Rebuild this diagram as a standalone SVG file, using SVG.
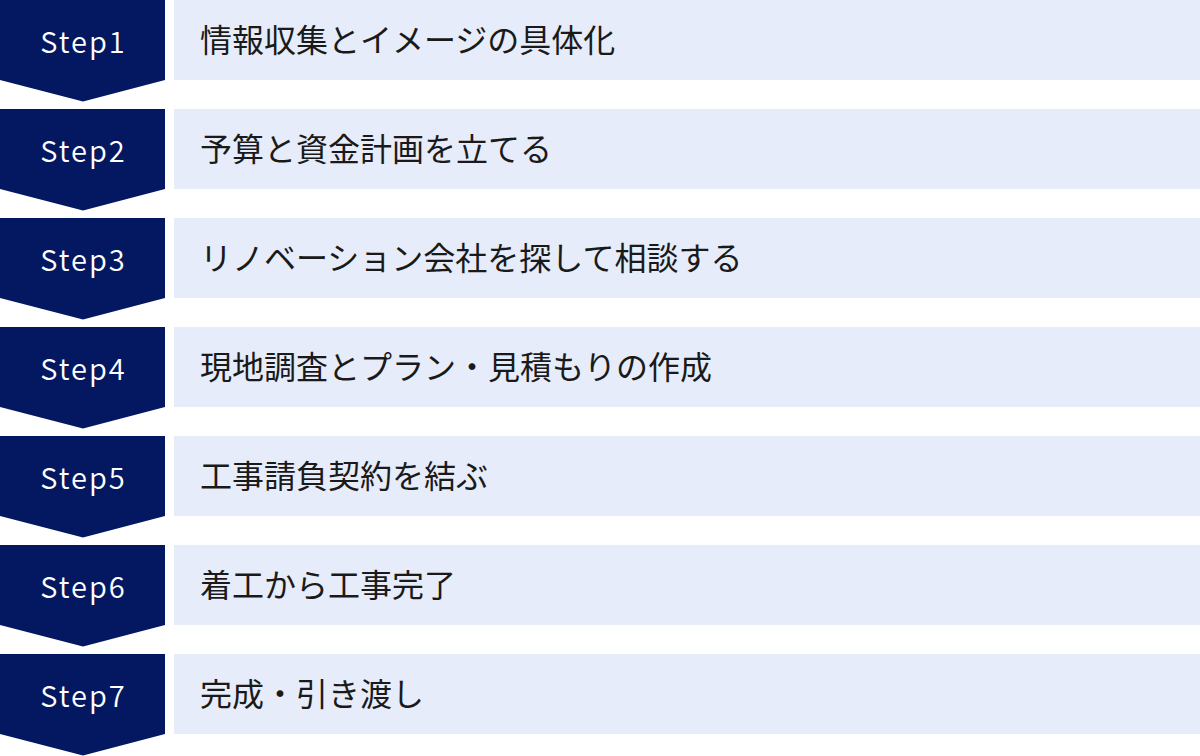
<svg xmlns="http://www.w3.org/2000/svg" width="1200" height="756" viewBox="0 0 1200 756">
<style>
.chev{fill:#041862}
.box{fill:#e6ecf9}
.step{font-family:"Noto Sans CJK JP","Noto Sans",sans-serif;font-size:29px;font-weight:350;letter-spacing:2px;fill:#ffffff;text-anchor:middle}
.lbl{font-family:"Noto Sans CJK JP","Noto Sans",sans-serif;font-size:32px;fill:#1a1a1a}
</style>
<defs>
<path id="chevron" d="M0 0H165V80L83 101.5L0 80Z"/>
</defs>
<g id="connectors"></g>
<g id="step1" transform="translate(0,0)">
<use href="#chevron" class="chev"/><rect class="box" x="174" y="0" width="1026" height="80"/>
<text class="step" x="83.5" y="53">Step1</text><text class="lbl" x="200" y="52">情報収集とイメージの具体化</text>
</g>
<g id="step2" transform="translate(0,109)">
<use href="#chevron" class="chev"/><rect class="box" x="174" y="0" width="1026" height="80"/>
<text class="step" x="83.5" y="53">Step2</text><text class="lbl" x="200" y="52">予算と資金計画を立てる</text>
</g>
<g id="step3" transform="translate(0,218)">
<use href="#chevron" class="chev"/><rect class="box" x="174" y="0" width="1026" height="80"/>
<text class="step" x="83.5" y="53">Step3</text><text class="lbl" x="200" y="52">リノベーション会社を探して相談する</text>
</g>
<g id="step4" transform="translate(0,327)">
<use href="#chevron" class="chev"/><rect class="box" x="174" y="0" width="1026" height="80"/>
<text class="step" x="83.5" y="53">Step4</text><text class="lbl" x="200" y="52">現地調査とプラン・見積もりの作成</text>
</g>
<g id="step5" transform="translate(0,436)">
<use href="#chevron" class="chev"/><rect class="box" x="174" y="0" width="1026" height="80"/>
<text class="step" x="83.5" y="53">Step5</text><text class="lbl" x="200" y="52">工事請負契約を結ぶ</text>
</g>
<g id="step6" transform="translate(0,545)">
<use href="#chevron" class="chev"/><rect class="box" x="174" y="0" width="1026" height="80"/>
<text class="step" x="83.5" y="53">Step6</text><text class="lbl" x="200" y="52">着工から工事完了</text>
</g>
<g id="step7" transform="translate(0,654)">
<use href="#chevron" class="chev"/><rect class="box" x="174" y="0" width="1026" height="80"/>
<text class="step" x="83.5" y="53">Step7</text><text class="lbl" x="200" y="52">完成・引き渡し</text>
</g>
</svg>
